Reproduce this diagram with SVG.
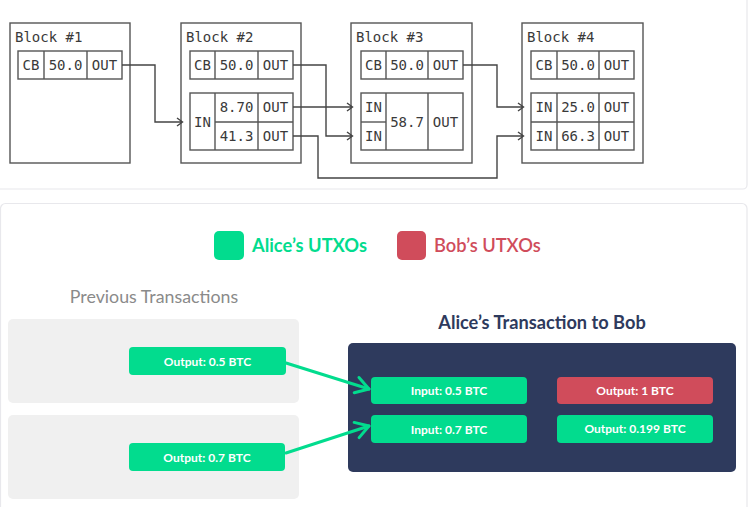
<svg xmlns="http://www.w3.org/2000/svg" width="753" height="507" viewBox="0 0 753 507">
<style>
.card{fill:#fff;stroke:#e8e8ec;stroke-width:1.2}
.blk{fill:#fff;stroke:#555;stroke-width:1.4}
.cell{fill:none;stroke:#555;stroke-width:1.4}
.mono{font-family:"DejaVu Sans Mono","Liberation Mono",monospace;font-size:14px;fill:#3a3a3a}
.mid{text-anchor:middle}
.wire{fill:none;stroke:#444;stroke-width:1.4}
.chev{fill:none;stroke:#444;stroke-width:1.4}
.green{fill:#02dc8e}
.red{fill:#d04c5b}
.pill{font-family:Lato,"Open Sans","Liberation Sans",sans-serif;font-weight:bold;font-size:12px;fill:#fff;text-anchor:middle}
.leg{font-family:Lato,"Open Sans","Liberation Sans",sans-serif;font-weight:bold;font-size:18.3px}
.arrow{fill:none;stroke:#02dc8e;stroke-width:3;stroke-linecap:round;stroke-linejoin:round}
</style>
<defs>
<marker id="ah" viewBox="-16 -10 18 20" refX="0" refY="0" markerWidth="18" markerHeight="20" markerUnits="userSpaceOnUse" orient="auto">
<path d="M-13,-8 L0,0 L-13,8" fill="none" stroke="#02dc8e" stroke-width="3" stroke-linecap="round" stroke-linejoin="round"/>
</marker>
</defs>
<rect width="753" height="507" fill="#fff"/>
<rect class="card" x="-6" y="-6" width="753" height="195" rx="4"/>
<rect class="card" x="0.5" y="203.5" width="746.5" height="310" rx="5"/>

<g id="block1">
<rect class="blk" x="10" y="23" width="120" height="140"/>
<text class="mono" x="15" y="42">Block #1</text>
<rect class="cell" x="18" y="51" width="104" height="28"/>
<line class="cell" x1="44" y1="51" x2="44" y2="79"/>
<line class="cell" x1="87" y1="51" x2="87" y2="79"/>
<text class="mono mid" x="31" y="70">CB</text>
<text class="mono mid" x="65.5" y="70">50.0</text>
<text class="mono mid" x="104.5" y="70">OUT</text>
</g>

<g id="block2">
<rect class="blk" x="181" y="23" width="120" height="140"/>
<text class="mono" x="186" y="42">Block #2</text>
<rect class="cell" x="190" y="51" width="103" height="28"/>
<line class="cell" x1="215" y1="51" x2="215" y2="79"/>
<line class="cell" x1="258" y1="51" x2="258" y2="79"/>
<text class="mono mid" x="202.5" y="70">CB</text>
<text class="mono mid" x="236.5" y="70">50.0</text>
<text class="mono mid" x="275.5" y="70">OUT</text>
<rect class="cell" x="190" y="93" width="103" height="57"/>
<line class="cell" x1="215" y1="93" x2="215" y2="150"/>
<line class="cell" x1="258" y1="93" x2="258" y2="150"/>
<line class="cell" x1="215" y1="122" x2="293" y2="122"/>
<text class="mono mid" x="202.5" y="127">IN</text>
<text class="mono mid" x="236.5" y="112">8.70</text>
<text class="mono mid" x="275.5" y="112">OUT</text>
<text class="mono mid" x="236.5" y="141">41.3</text>
<text class="mono mid" x="275.5" y="141">OUT</text>
</g>

<g id="block3">
<rect class="blk" x="351" y="23" width="121" height="140"/>
<text class="mono" x="356" y="42">Block #3</text>
<rect class="cell" x="361" y="51" width="102" height="28"/>
<line class="cell" x1="386" y1="51" x2="386" y2="79"/>
<line class="cell" x1="428" y1="51" x2="428" y2="79"/>
<text class="mono mid" x="373.5" y="70">CB</text>
<text class="mono mid" x="407" y="70">50.0</text>
<text class="mono mid" x="445.5" y="70">OUT</text>
<rect class="cell" x="361" y="93" width="102" height="57"/>
<line class="cell" x1="386" y1="93" x2="386" y2="150"/>
<line class="cell" x1="428" y1="93" x2="428" y2="150"/>
<line class="cell" x1="361" y1="122" x2="386" y2="122"/>
<text class="mono mid" x="373.5" y="112">IN</text>
<text class="mono mid" x="373.5" y="141">IN</text>
<text class="mono mid" x="407" y="127">58.7</text>
<text class="mono mid" x="445.5" y="127">OUT</text>
</g>

<g id="block4">
<rect class="blk" x="522" y="23" width="121" height="140"/>
<text class="mono" x="527" y="42">Block #4</text>
<rect class="cell" x="531" y="51" width="103" height="28"/>
<line class="cell" x1="557" y1="51" x2="557" y2="79"/>
<line class="cell" x1="599" y1="51" x2="599" y2="79"/>
<text class="mono mid" x="544" y="70">CB</text>
<text class="mono mid" x="578" y="70">50.0</text>
<text class="mono mid" x="616.5" y="70">OUT</text>
<rect class="cell" x="531" y="93" width="103" height="57"/>
<line class="cell" x1="557" y1="93" x2="557" y2="150"/>
<line class="cell" x1="599" y1="93" x2="599" y2="150"/>
<line class="cell" x1="531" y1="122" x2="634" y2="122"/>
<text class="mono mid" x="544" y="112">IN</text>
<text class="mono mid" x="578" y="112">25.0</text>
<text class="mono mid" x="616.5" y="112">OUT</text>
<text class="mono mid" x="544" y="141">IN</text>
<text class="mono mid" x="578" y="141">66.3</text>
<text class="mono mid" x="616.5" y="141">OUT</text>
</g>

<g id="legend">
<rect class="green" x="214" y="231" width="30" height="29" rx="5"/>
<text class="leg" x="252" y="251.5" fill="#02dc8e">Alice’s UTXOs</text>
<rect class="red" x="397" y="231" width="29" height="29" rx="5"/>
<text class="leg" x="434" y="251.5" fill="#d04c5b" style="font-weight:600">Bob’s UTXOs</text>
</g>

<g id="previous">
<text x="154" y="303" text-anchor="middle" font-family="Lato,'Open Sans','Liberation Sans',sans-serif" font-size="17.8" fill="#8a8a8a">Previous Transactions</text>
<rect x="8" y="319" width="291" height="84" rx="5" fill="#f0f0f0"/>
<rect x="8" y="415" width="291" height="84" rx="5" fill="#f0f0f0"/>
</g>

<g id="out05">
<rect class="green" x="129" y="347" width="157" height="28" rx="4"/>
<text class="pill" x="207.5" y="365.5">Output: 0.5 BTC</text>
</g>
<g id="out07">
<rect class="green" x="129" y="443" width="156" height="28" rx="4"/>
<text class="pill" x="207" y="461.5">Output: 0.7 BTC</text>
</g>

<g id="tx">
<text x="542" y="328.5" text-anchor="middle" font-family="Lato,'Open Sans','Liberation Sans',sans-serif" font-weight="bold" font-size="18.2" fill="#2e3a5d">Alice’s Transaction to Bob</text>
<rect x="348" y="343" width="388" height="129" rx="5" fill="#2e3a5d"/>
</g>
<g id="in05">
<rect class="green" x="371" y="377" width="156" height="27" rx="4"/>
<text class="pill" x="449" y="395">Input: 0.5 BTC</text>
</g>
<g id="in07">
<rect class="green" x="371" y="415" width="156" height="28" rx="4"/>
<text class="pill" x="449" y="433.5">Input: 0.7 BTC</text>
</g>
<g id="out1">
<rect class="red" x="557" y="377" width="156" height="27" rx="4"/>
<text class="pill" x="635" y="395">Output: 1 BTC</text>
</g>
<g id="out0199">
<rect class="green" x="557" y="415" width="156" height="28" rx="4"/>
<text class="pill" x="635" y="433">Output: 0.199 BTC</text>
</g>

<g id="connectors">
<path class="wire" d="M122,65 H155 V122 H182"/>
<path class="chev" d="M177,118 L182.5,122 L177,126"/>
<path class="wire" d="M293,65 H326 V136 H352"/>
<path class="chev" d="M347,132 L352.5,136 L347,140"/>
<path class="wire" d="M293,107 H352"/>
<path class="chev" d="M347,103 L352.5,107 L347,111"/>
<path class="wire" d="M293,136 H318 V178 H497 V136 H523"/>
<path class="chev" d="M518,132 L523.5,136 L518,140"/>
<path class="wire" d="M463,65 H497 V107 H523"/>
<path class="chev" d="M518,103 L523.5,107 L518,111"/>
<path class="arrow" d="M286,363 L369,389" marker-end="url(#ah)"/>
<path class="arrow" d="M286,453 L369,426" marker-end="url(#ah)"/>
</g>
</svg>
